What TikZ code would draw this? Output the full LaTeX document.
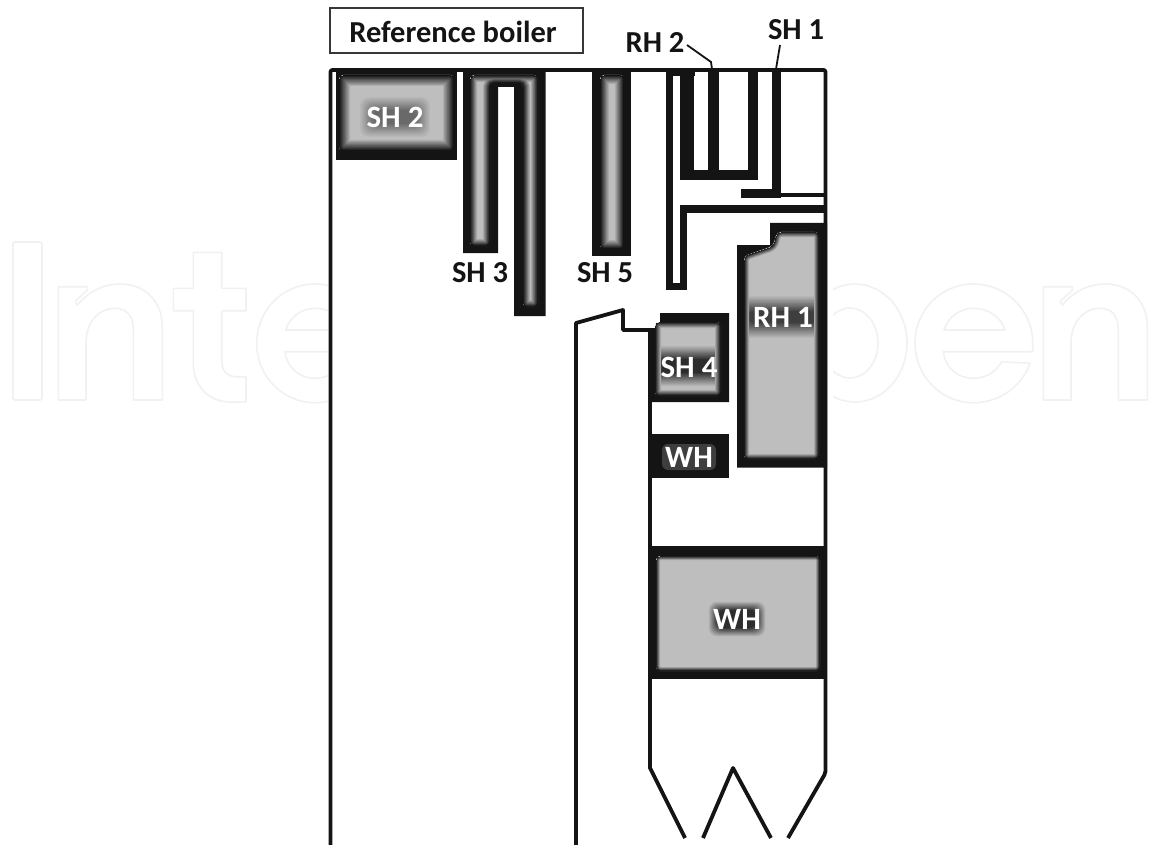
\documentclass[tikz,border=0pt]{standalone}
\usepackage{fontspec}
\setmainfont{Carlito}
\definecolor{ink}{HTML}{141414}
\definecolor{panel}{HTML}{BEBEBE}
\definecolor{wmark}{HTML}{F1F1F1}
\tikzset{
  x=1pt,y=-1pt,
  solid block/.style={fill=ink,draw=none},
  wall/.style={draw=ink,line width=3.8pt,line join=round,line cap=butt},
  thin lead/.style={draw=ink,line width=1.8pt},
  watermark/.style={draw=wmark,line width=1.6pt,line join=round},
  blacklabel/.style={text=ink,font=\bfseries\fontsize{30.5}{30.5}\selectfont,inner sep=0pt},
  whitelabel/.style={text=white,font=\bfseries\fontsize{31}{31}\selectfont,inner sep=0pt}
}
% dark blurred patch behind a white label: centre x, y, half width, half height, blur, darkest mix
\newcommand{\softhalo}[6]{%
  \foreach \i in {1,...,12}{
    \pgfmathsetmacro{\ex}{#5*(12-\i)/12}
    \pgfmathsetmacro{\pc}{100-(100-#6)*\i/12}
    \fill[panel!\pc!ink,rounded corners=8pt] (#1-#3-\ex,#2-#4-\ex) rectangle (#1+#3+\ex,#2+#4+\ex);
  }}
% gray area fading into black towards its edge; third argument is painted under the fade
\newcommand{\softfill}[3]{%
  \begin{scope}
    \clip[rounded corners=4pt] #2;
    \fill[panel] (0,0) rectangle (1151,845);
    #3
    \foreach \i in {1,...,10}{
      \pgfmathsetmacro{\lw}{2*#1*(11-\i)/10}
      \pgfmathsetmacro{\pc}{100*(10-\i)/10}
      \begin{scope}[transparency group,opacity=1]
      \draw[rounded corners=4pt,draw=panel!\pc!ink,line width=\lw pt] #2;
      \end{scope}
    }
  \end{scope}}
\newcommand{\wmE}{(1032.7,351.7) -- (1032.7,343.3) .. controls (1032.7,310) and (1006,284) .. (973.3,284) .. controls (941,284) and (915,310) .. (915,343.3) .. controls (915,376) and (941,402.7) .. (973.3,402.7) .. controls (1000,402.7) and (1022,386) .. (1030,363.3) -- (1001.7,361.7) .. controls (996,372) and (986,378.3) .. (973.3,378.3) .. controls (957,378.3) and (945,367) .. (943.3,351.7) -- cycle
 (944,330) .. controls (948,317) and (960,308.3) .. (973.3,308.3) .. controls (988,308.3) and (1001,317) .. (1005,330) -- cycle}
\newcommand{\wmN}{(58.3,286.7) -- (87.3,286.7) -- (87.3,290) -- (75,301.7) -- (77.3,305) .. controls (88,292) and (103,284) .. (120,284) .. controls (146,284) and (162.3,302) .. (162.3,326.7) -- (162.3,400) -- (133.3,400) -- (133.3,330) .. controls (133.3,316) and (127,308.3) .. (115,308.3) .. controls (98,308.3) and (86,323) .. (86,343) -- (86,400) -- (58.3,400) -- cycle}
\begin{document}
\begin{tikzpicture}
\useasboundingbox (0,0) rectangle (1151,845);
\fill[white] (0,0) rectangle (1151,845);
% watermark outlines
\draw[watermark,rounded corners=1.5pt] (13,242) rectangle (42,400);
\draw[watermark] \wmN;
\draw[watermark] (193.3,252.3) -- (221.7,252.3) -- (221.7,288.3) -- (246,288.3) -- (246,310.7) -- (221.7,310.7) -- (221.7,360) .. controls (221.7,371) and (227,376.7) .. (236.7,376.7) -- (246,376.7) -- (246,401.7) -- (233,402.3) .. controls (208,402.3) and (193.3,386) .. (193.3,363) -- (193.3,310.7) -- (173.3,310.7) -- (173.3,288.3) -- (193.3,288.3) -- cycle;
\begin{scope}[xshift=-658.3pt]\draw[watermark] \wmE;\end{scope}
\draw[watermark] (855,343) ellipse [x radius=52,y radius=59];
\draw[watermark] (850,343) ellipse [x radius=28,y radius=35];
\draw[watermark] \wmE;
\begin{scope}[xshift=985pt]\draw[watermark] \wmN;\end{scope}
\fill[white] (328,60) rectangle (833,845);
% title box
\draw[draw=ink!85,line width=2pt] (329.5,8.5) rectangle (583,53.5);
\node[blacklabel] (title) at (453,32) {Reference boiler};
% outer casing
\draw[wall,rounded corners=2pt] (330.5,845) -- (330.5,70) -- (825.5,70) -- (825.5,773) -- (788,838);
\draw[wall] (650,330) -- (650,768) -- (685,838);
\draw[wall] (703,838) -- (733,768) -- (771,838);
\draw[wall] (576,845) -- (576,323) -- (623,310) -- (623,330) -- (660,330);
% SH 2
\fill[solid block] (336,69) rectangle (457,160);
\softfill{11}{(339,75) -- (454,75) -- (454,151) -- (339,151) -- cycle}{\softhalo{395}{117}{22}{7}{14}{50}}
% SH 3
\fill[solid block] (463,69) -- (545.5,69) -- (545.5,316) -- (514,316) -- (514,87) -- (498,87) -- (498,253) -- (463,253) -- cycle;
\softfill{7}{(470,246) -- (470,75) -- (538,75) -- (538,307) -- (523,307) -- (523,83) -- (490,83) -- (490,246) -- cycle}{}
% SH 5
\fill[solid block] (592,69) rectangle (631,256);
\softfill{9}{(600,75) -- (624,75) -- (624,249) -- (600,249) -- cycle}{}
% RH 2 and the baffle
\fill[solid block] (666,69) rectangle (695,76);
\fill[solid block] (666,69) rectangle (673,290);
\fill[solid block] (666,283) rectangle (686.5,290);
\fill[solid block] (680,69) rectangle (694,180);
\fill[solid block] (708,69) rectangle (719,180);
\fill[solid block] (748,69) rectangle (758,180);
\fill[solid block] (680,170) rectangle (758,180);
\fill[solid block] (680,205) rectangle (826,213);
\fill[solid block] (680,205) rectangle (686.5,290);
% SH 1
\fill[solid block] (772,69) rectangle (781,198);
\fill[solid block] (741,189.5) rectangle (781,198);
\fill[solid block] (781,192.8) rectangle (826,197);
% RH 1
\fill[solid block] (737,245) -- (770,245) -- (770,223) -- (827,223) -- (827,467.5) -- (737,467.5) -- cycle;
\softfill{5}{(744,459) -- (744,256) -- (773,246) -- (777,232) -- (819,232) -- (819,459) -- cycle}{\softhalo{783}{317}{36}{6}{16}{25}}
% SH 4
\fill[solid block] (660,313) -- (729,313) -- (729,402) -- (650,402) -- (650,330) -- (660,330) -- cycle;
\softfill{6}{(655,322) -- (721,322) -- (721,396) -- (655,396) -- cycle}{\softhalo{689}{366}{34}{7}{14}{15}}
% small WH
\fill[solid block] (650,434) rectangle (729,478);
\fill[ink!82!white,rounded corners=6pt] (662,444) rectangle (716,470);
% big WH
\fill[solid block] (650,549) rectangle (827,679);
\softfill{4}{(656,556) -- (820,556) -- (820,671) -- (656,671) -- cycle}{\softhalo{737}{619}{20}{9}{9}{15}}
% lower partition
\draw[wall] (650,547.5) -- (826,547.5);
% labels
\node[whitelabel] (sh2) at (395,117) {SH 2};
\node[blacklabel] (sh3) at (480,273) {SH 3};
\node[blacklabel] (sh5) at (605,273) {SH 5};
\node[whitelabel] (sh4) at (689,367) {SH 4};
\node[whitelabel] (rh1) at (783,317) {RH 1};
\node[whitelabel] (wha) at (689,457) {WH};
\node[whitelabel] (whb) at (737,619) {WH};
\node[blacklabel] (rh2) at (655,43) {RH 2};
\node[blacklabel] (sh1) at (796,30) {SH 1};
% leaders
\coordinate (rh2end) at (712,69);
\coordinate (sh1end) at (776,69);
\draw[thin lead] (687,45) -- (711,62) -- (rh2end);
\draw[thin lead] (780,45) -- (sh1end);
\end{tikzpicture}
\end{document}
